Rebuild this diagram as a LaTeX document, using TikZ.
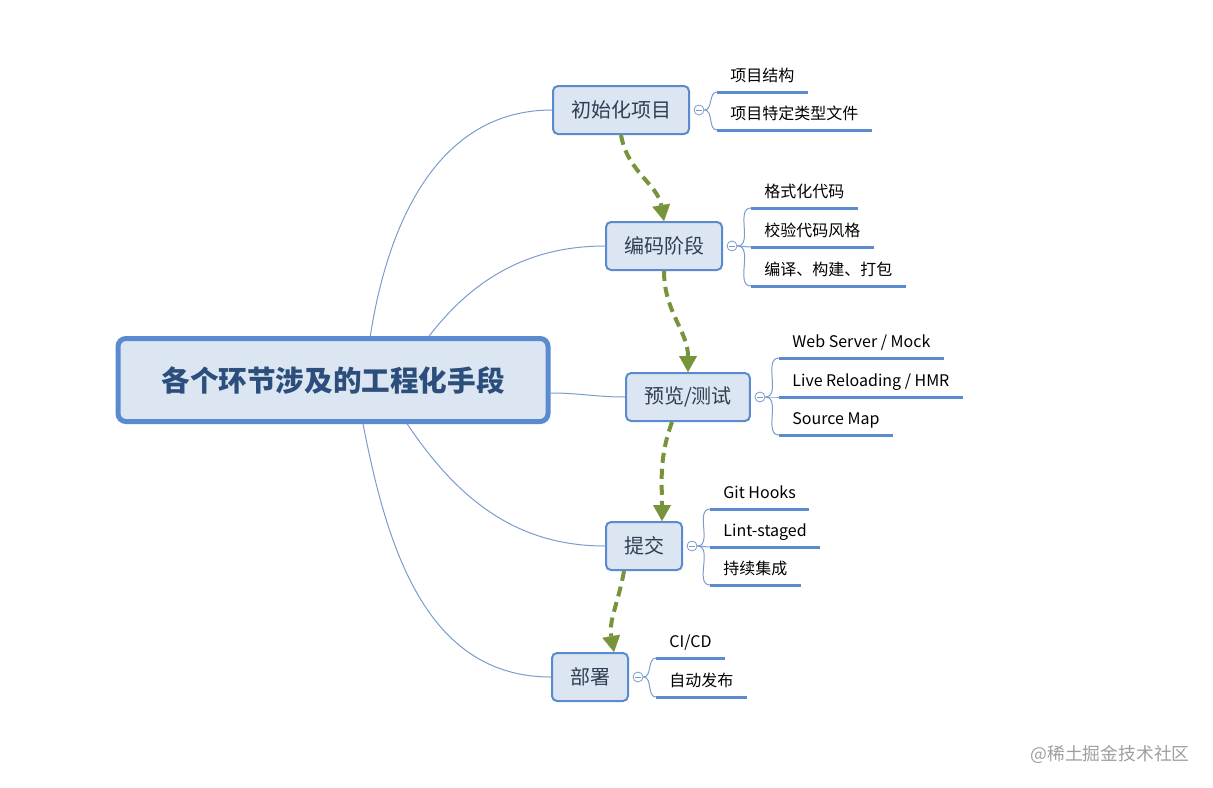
\documentclass[tikz,border=0pt]{standalone}
\usepackage{fontspec}
\setmainfont{Noto Sans CJK SC}
\usetikzlibrary{arrows.meta, positioning, backgrounds}
\definecolor{boxfill}{HTML}{DCE6F2}
\definecolor{boxline}{HTML}{5B8BCF}
\definecolor{linkblue}{HTML}{7A9CCB}
\definecolor{flowgreen}{HTML}{77933C}
\definecolor{roottext}{HTML}{2C4E7D}
\definecolor{stagetext}{HTML}{2F3E52}

\begin{document}
\begin{tikzpicture}[x=0.5pt, y=0.5pt,
  root/.style = {draw=boxline, line width=2.5pt, fill=boxfill, rounded corners=4pt, minimum width=215pt, minimum height=41.5pt, font=\fontsize{14.3}{16}\selectfont\bfseries, text=roottext},
  stage/.style = {draw=boxline, line width=1pt, fill=boxfill, rounded corners=2.5pt, inner xsep=9pt, minimum height=24pt, font=\fontsize{10}{12}\selectfont, text=stagetext},
  fold/.style = {draw=linkblue, fill=white, circle, inner sep=0pt, minimum size=5pt, line width=0.4pt,
    path picture={\draw[linkblue, line width=0.3pt] ([xshift=-1.3pt]path picture bounding box.center) -- ([xshift=1.3pt]path picture bounding box.center);}},
  leaf/.style = {anchor=south west, inner xsep=6.5pt, inner ysep=3pt, text height=6pt, text depth=2pt, font=\fontsize{8}{10}\selectfont},
  under/.style = {draw=boxline, line width=1.5pt},
  link/.style = {draw=linkblue, line width=0.5pt},
  flow/.style = {draw=flowgreen, line width=2pt, dash pattern=on 5pt off 3pt,
    -{Triangle[width=9pt,length=8pt,line width=0.1pt,fill=flowgreen]}},
  credit/.style = {text=black!38, font=\fontsize{8.9}{10}\selectfont}]

  \useasboundingbox (0,0) rectangle (1213,-787);

  % centre and the five stages
  \node[root]  (root) at (333,-380) {各个环节涉及的工程化手段};
  \node[stage] (n1) at (621,-110) {初始化项目};
  \node[stage] (n2) at (664,-246) {编码阶段};
  \node[stage] (n3) at (688,-397) {预览/测试};
  \node[stage] (n4) at (644,-546) {提交};
  \node[stage] (n5) at (590,-677) {部署};

  \node[fold] (c1) at ([xshift=4.5pt]n1.east) {};
  \node[fold] (c2) at ([xshift=4.5pt]n2.east) {};
  \node[fold] (c3) at ([xshift=4.5pt]n3.east) {};
  \node[fold] (c4) at ([xshift=4.5pt]n4.east) {};
  \node[fold] (c5) at ([xshift=4.5pt]n5.east) {};

  % leaves
  \node[leaf] (l11) at (717,-92)  {项目结构};
  \node[leaf] (l12) at (717,-130) {项目特定类型文件};
  \node[leaf] (l21) at (751,-208) {格式化代码};
  \node[leaf] (l22) at (751,-247) {校验代码风格};
  \node[leaf] (l23) at (751,-286) {编译、构建、打包};
  \node[leaf] (l31) at (779,-358) {Web Server / Mock};
  \node[leaf] (l32) at (779,-397) {Live Reloading / HMR};
  \node[leaf] (l33) at (779,-435) {Source Map};
  \node[leaf] (l41) at (710,-509) {Git Hooks};
  \node[leaf] (l42) at (710,-547) {Lint-staged};
  \node[leaf] (l43) at (710,-585) {持续集成};
  \node[leaf] (l51) at (656,-658) {CI/CD};
  \node[leaf] (l52) at (656,-697) {自动发布};

  \foreach \l in {l11,l12,l21,l22,l23,l31,l32,l33,l41,l42,l43,l51,l52}
    \draw[under] (\l.south west) -- (\l.south east);

  \node[credit] (wm) at (1110,-754) {@稀土掘金技术社区};

  \begin{scope}[on background layer]
    \path[link]
    ([xshift=16pt]root.center)   edge[out=85,in=180]  (n1.west)
    ([xshift=33.5pt]root.center) edge[out=60,in=180]  (n2.west)
    ([yshift=-6.5pt]root.east)   edge[out=0,in=180]   (n3.west)
    ([xshift=23.5pt]root.center) edge[out=-60,in=180] (n4.west)
    ([xshift=11pt]root.center)   edge[out=-80,in=180] (n5.west);

    \path[link]
    (c1.east) edge[out=0,in=180] (l11.south west)
    (c1.east) edge[out=0,in=180] (l12.south west)
    (c2.east) edge[out=0,in=180] (l21.south west)
    (c2.east) edge[out=0,in=180] (l22.south west)
    (c2.east) edge[out=0,in=180] (l23.south west)
    (c3.east) edge[out=0,in=180] (l31.south west)
    (c3.east) edge[out=0,in=180] (l32.south west)
    (c3.east) edge[out=0,in=180] (l33.south west)
    (c4.east) edge[out=0,in=180] (l41.south west)
    (c4.east) edge[out=0,in=180] (l42.south west)
    (c4.east) edge[out=0,in=180] (l43.south west)
    (c5.east) edge[out=0,in=180] (l51.south west)
    (c5.east) edge[out=0,in=180] (l52.south west);
  \end{scope}

  % workflow order
  \path
  (n1.south)                edge[flow, out=-80,in=100]  (n2.north)
  (n2.south)                edge[flow, out=-90,in=90]   (n3.north)
  ([xshift=-8pt]n3.south)   edge[flow, out=-110,in=90]  ([xshift=9pt]n4.north)
  ([xshift=-10pt]n4.south)  edge[flow, out=-100,in=100] ([xshift=12pt]n5.north);

\end{tikzpicture}
\end{document}
